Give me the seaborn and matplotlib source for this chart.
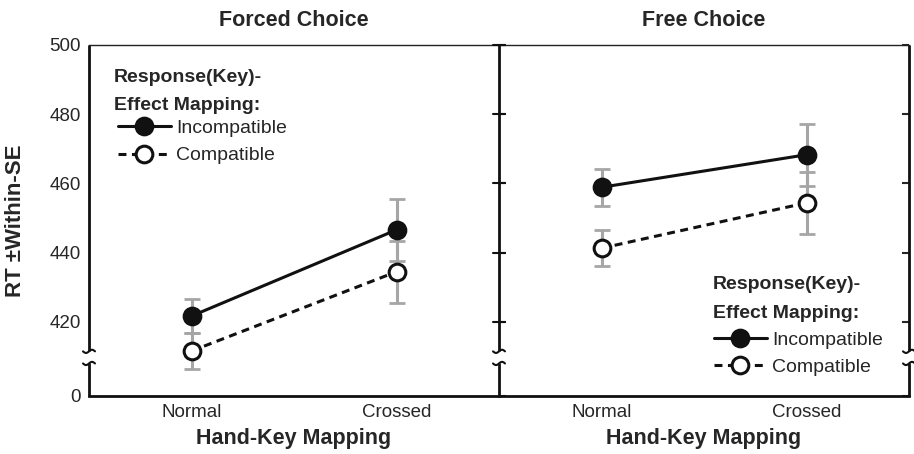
import numpy as np
import pandas as pd
import matplotlib
matplotlib.use("Agg")
import matplotlib.pyplot as plt
import seaborn as sns

# ---- data ----
panels = ["Forced Choice", "Free Choice"]
conditions = ["Normal", "Crossed"]
forced_incompatible = [421.7, 446.6]
forced_incompatible_se = [5.0, 9.0]
forced_compatible = [411.6, 434.5]
forced_compatible_se = [5.3, 8.9]
free_incompatible = [458.9, 468.3]
free_incompatible_se = [5.4, 9.0]
free_compatible = [441.3, 454.4]
free_compatible_se = [5.2, 9.0]
yticks = [0, 420, 440, 460, 480, 500]
legend_title = ["Response(Key)-", "Effect Mapping:"]

sns.set_style("white")
plt.rcParams["font.family"] = ["Liberation Sans", "DejaVu Sans"]

# broken y scale: linear above 405, compressed below
Y0, Z0 = 405.0, 398.6
def fwd(y):
    y = np.asarray(y, dtype=float)
    return np.where(y >= Y0, y, Z0 + y * (Y0 - Z0) / Y0)
def inv(z):
    z = np.asarray(z, dtype=float)
    return np.where(z >= Y0, z, (z - Z0) * Y0 / (Y0 - Z0))

fig = plt.figure(figsize=(9.14, 4.54), dpi=100)
W, H = 914, 454
L, R1, R2, T, B = 89, 499, 909, 45, 396
ax1 = fig.add_axes([L / W, 1 - B / H, (R1 - L) / W, (B - T) / H])
ax2 = fig.add_axes([R1 / W, 1 - B / H, (R2 - R1) / W, (B - T) / H])
axw, axh = R1 - L, B - T

data = {
    "Forced Choice": [(forced_incompatible, forced_incompatible_se),
                      (forced_compatible, forced_compatible_se)],
    "Free Choice": [(free_incompatible, free_incompatible_se),
                    (free_compatible, free_compatible_se)],
}
x = np.arange(len(conditions))
gray = "#a6a6a6"
styles = [dict(label="Incompatible", linestyle="-", markerfacecolor="#111111"),
          dict(label="Compatible", linestyle=(0, (2.6, 1.8)), markerfacecolor="white")]

for ax, panel in zip([ax1, ax2], panels):
    ax.set_yscale("function", functions=(fwd, inv))
    for (vals, se), st in zip(data[panel], styles):
        ax.errorbar(x, vals, yerr=se, fmt="none", ecolor=gray, elinewidth=2.2,
                    capsize=6, capthick=2, zorder=2)
        df = pd.DataFrame({"x": x, "y": vals})
        sns.lineplot(data=df, x="x", y="y", ax=ax, color="#111111", lw=2.2,
                     marker="o", markersize=12, markeredgecolor="#111111",
                     markeredgewidth=2.2, errorbar=None, zorder=3, **st)
    ax.set_ylim(0, 500)
    ax.set_xlim(-0.5, 1.5)
    ax.set_yticks(yticks)
    ax.set_xticks(x)
    ax.set_xticklabels(conditions)
    ax.set_xticks([-0.5, 0.5, 1.5], minor=True)
    ax.tick_params(axis="x", which="major", length=0, labelsize=13.5, pad=6)
    ax.tick_params(axis="x", which="minor", direction="inout", length=8, width=1.5)
    ax.set_xlabel("Hand-Key Mapping", fontsize=15.5, fontweight="bold", labelpad=5)
    ax.set_ylabel("")
    ax.set_title(panel, fontsize=15.5, fontweight="bold", pad=14)
    for s in ["left", "right"]:
        ax.spines[s].set_visible(False)
    ax.spines["bottom"].set_linewidth(2)
    ax.spines["bottom"].set_color("#111111")
    ax.spines["top"].set_linewidth(1.0)
    ax.spines["top"].set_color("#222222")

ax1.tick_params(axis="y", direction="in", length=5, width=1.5, labelsize=13.5, pad=6)
ax2.tick_params(axis="y", which="major", left=True, right=True, labelleft=False,
                direction="in", length=5, width=1.5)
ax1.set_ylabel("RT \u00b1Within-SE", fontsize=16, fontweight="bold")
ax1.yaxis.set_label_coords((26 - L) / axw, 0.5)

# draw split y spines and break marks
ytop_break, ybot_break = 411.5, 408.0
def yfrac(v):
    return (float(fwd(v)) - Z0) / (500 - Z0)
def spine_with_break(ax, xa, inout_ticks=False):
    tr = ax.transAxes
    ax.plot([xa, xa], [yfrac(ytop_break), 1], transform=tr, color="#111111",
            lw=2, clip_on=False, solid_capstyle="butt", zorder=5)
    ax.plot([xa, xa], [0, yfrac(ybot_break)], transform=tr, color="#111111",
            lw=2, clip_on=False, solid_capstyle="butt", zorder=5)
    px = np.linspace(-6, 6, 30)
    py = 1.6 * np.sin(np.pi * px / 6)
    for yb in [ytop_break, ybot_break]:
        ax.plot(xa + px / axw, yfrac(yb) + py / axh, transform=tr, color="#111111",
                lw=1.5, clip_on=False, zorder=5)
    if inout_ticks:
        for v in yticks[1:]:
            ax.plot([xa - 6 / axw, xa + 6 / axw], [yfrac(v)] * 2, transform=tr,
                    color="#111111", lw=1.5, clip_on=False, zorder=5)

spine_with_break(ax1, 0.0)
spine_with_break(ax2, 0.0, inout_ticks=True)
spine_with_break(ax2, 1.0)

# legends: (title x px, first baseline px, second baseline px, handle x px, entries center px)
legend_pos = [(ax1, L, 114, 82, 110, 118, 142),
              (ax2, R1, 713, 289, 318, 714, 353.5)]
for ax, x0, tx, b1, b2, hx, ec in legend_pos:
    for txt, bl in zip(legend_title, [b1, b2]):
        ax.text((tx - x0) / axw, (B - bl) / axh, txt, transform=ax.transAxes,
                fontsize=14, fontweight="bold", ha="left", va="baseline")
    h, l = ax.get_legend_handles_labels()
    ax.legend(h, l, loc="center left", bbox_to_anchor=((hx - x0) / axw, (B - ec) / axh),
              frameon=False, fontsize=14, handlelength=2.7, handletextpad=0.3,
              labelspacing=0.5, borderaxespad=0, borderpad=0)

fig.savefig("out.png", dpi=100)
